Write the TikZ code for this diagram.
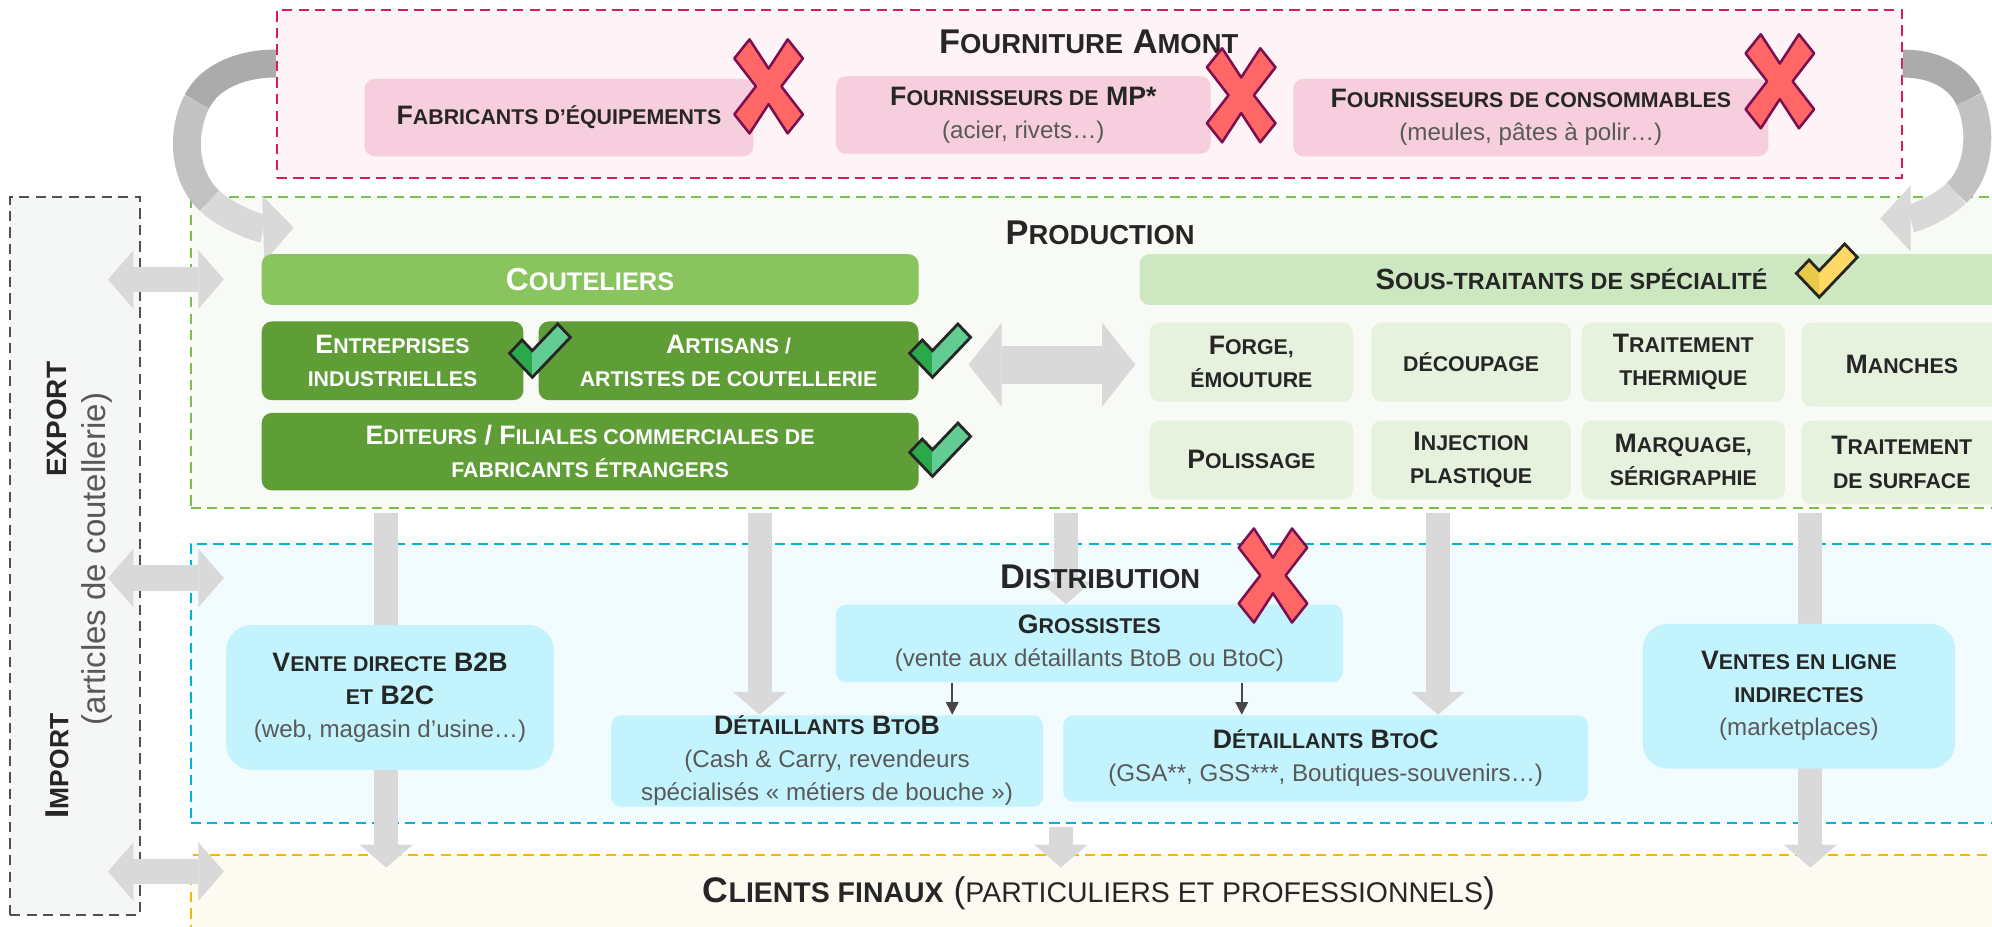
\documentclass[tikz,border=0pt]{standalone}
\usepackage{fontspec}
\setmainfont{Liberation Sans}
\usetikzlibrary{shapes,arrows.meta,calc}

\definecolor{txt}{HTML}{262626}
\definecolor{subtxt}{HTML}{595959}
\definecolor{pinkline}{HTML}{D81B60}
\definecolor{pinkbg}{HTML}{FEF3F7}
\definecolor{pinkbx}{HTML}{F6CEDD}
\definecolor{greenline}{HTML}{7DBF4E}
\definecolor{greenbg}{HTML}{F8FAF5}
\definecolor{coutbar}{HTML}{8AC45E}
\definecolor{coutbx}{HTML}{5F9D37}
\definecolor{sstbar}{HTML}{CDE8C1}
\definecolor{sstbx}{HTML}{E6F2DD}
\definecolor{cyanline}{HTML}{00B4D8}
\definecolor{cyanbg}{HTML}{F2FBFE}
\definecolor{cyanbx}{HTML}{C3F4FE}
\definecolor{orline}{HTML}{F5B800}
\definecolor{orbg}{HTML}{FDFAF2}
\definecolor{greyline}{HTML}{505050}
\definecolor{greybg}{HTML}{F5F6F6}
\definecolor{arrgrey}{HTML}{D9D9D9}
\definecolor{arrmid}{HTML}{C2C2C2}
\definecolor{arrdark}{HTML}{ABABAB}
\definecolor{xfill}{HTML}{FF6666}
\definecolor{xedge}{HTML}{7A1050}
\definecolor{okdark}{HTML}{2AA84A}
\definecolor{oklight}{HTML}{62CC92}
\definecolor{ydark}{HTML}{E8C94A}
\definecolor{ylight}{HTML}{FFD966}

% small caps made by hand
\makeatletter
\newcommand\sm[1]{{\fontsize{\fpeval{0.8*\f@size}}{\f@baselineskip}\selectfont\MakeUppercase{#1}}}
\makeatother
\newcommand\subt[1]{{\mdseries\color{subtxt}\fontsize{9.5}{12}\selectfont #1}}
\newcommand\px{0.5pt}

\tikzset{
  sect/.style = {rectangle, line width=0.8pt, dash pattern=on 4pt off 2.5pt},
  ttl/.style = {font=\fontsize{13.5}{16}\selectfont\bfseries, text=txt},
  bx/.style = {rectangle, rounded corners=4pt, align=center, inner sep=0pt,
               font=\fontsize{10.5}{13}\selectfont\bfseries, text=txt},
  pinkb/.style = {bx, fill=pinkbx},
  coutb/.style = {bx, fill=coutbx, text=white},
  sstb/.style = {bx, fill=sstbx},
  cyanb/.style = {bx, fill=cyanbx},
  bigarr/.style = {draw=arrgrey, line width=9.5pt,
                   -{Triangle[width=21pt,length=9pt,line width=0pt]}},
  dblarr/.style = {draw=arrgrey, line width=10pt,
                   {Triangle[width=23pt,length=10pt,line width=0pt]}-{Triangle[width=23pt,length=10pt,line width=0pt]}},
  midarr/.style = {draw=arrgrey, line width=15pt,
                   {Triangle[width=33pt,length=13pt,line width=0pt]}-{Triangle[width=33pt,length=13pt,line width=0pt]}},
  smallarr/.style = {draw=txt!85, line width=0.6pt, -{Triangle[width=5pt,length=5pt]}},
  curv/.style = {line width=11pt},
  curvtip/.style = {curv, draw=arrgrey, -{Triangle[width=26pt,length=12pt,line width=0pt]}},
  pics/okmark/.style 2 args = {code={
    \begin{scope}
      \clip (0,0) -- (-18,-18) -- (-8,-28) -- (0,-20) -- (20,-40) -- (30,-30) -- cycle;
      \fill[#1] (-20,-45) rectangle (0,2);
      \fill[#2] (0,-45) rectangle (32,2);
    \end{scope}
    \draw[line width=1.1pt, draw=black!85]
      (0,0) -- (-18,-18) -- (-8,-28) -- (0,-20) -- (20,-40) -- (30,-30) -- cycle;
  }},
  pics/nomark/.style = {code={
    \filldraw[fill=xfill, draw=xedge, line width=1pt, line join=round]
      (-27,-22) -- (-15,-37) -- (0,-14) -- (15,-37) -- (27,-22) -- (10,0) --
      (27,22) -- (15,37) -- (0,14) -- (-15,37) -- (-27,22) -- (-10,0) -- cycle;
  }}
}

\begin{document}
\begin{tikzpicture}[x=0.5pt, y=-0.5pt]
  \useasboundingbox (0,0) rectangle (1568,729);

  % sections
  \node[sect,
        draw = pinkline,
        fill = pinkbg,
        minimum width = 1279*\px,
        minimum height = 132*\px] (fourn) at (857.5,74) {};
  \node[sect,
        draw = greyline,
        fill = greybg,
        minimum width = 102*\px,
        minimum height = 565*\px] (expo) at (59,437.5) {};
  \node[sect,
        draw = greenline,
        fill = greenbg,
        minimum width = 1450*\px,
        minimum height = 245*\px] (prod) at (875,277.5) {};
  \node[sect,
        draw = cyanline,
        fill = cyanbg,
        minimum width = 1450*\px,
        minimum height = 220*\px] (dist) at (875,538) {};
  \node[sect,
        draw = orline,
        fill = orbg,
        minimum width = 1450*\px,
        minimum height = 87*\px] (cli) at (875,716.5) {};

  \node[ttl] (fourntxt) at (857,33) {F\sm{ourniture} A\sm{mont}};
  \node[ttl] (prodtxt) at (866,183) {P\sm{roduction}};
  \node[ttl, font=\fontsize{14}{16}\selectfont\bfseries] (clitxt) at (865,703)
       {C\sm{lients finaux} {\mdseries(\sm{particuliers et professionnels})}};

  \node[rotate=90, font=\fontsize{11}{13}\selectfont\bfseries, text=txt] at (45,330) {EXPORT};
  \node[rotate=90, font=\fontsize{13}{15}\selectfont\bfseries, text=txt] at (45,603) {I\sm{mport}};
  \node[rotate=90, font=\fontsize{13}{15}\selectfont, text=subtxt] at (76,440) {(articles de coutellerie)};

  % curved arrows
  \coordinate (lb1) at (155,80);
  \coordinate (lb2) at (165,158);
  \coordinate (rb1) at (1550,78);
  \coordinate (rb2) at (1540,152);
  \coordinate (rtip) at (1480,172);
  \draw[curv, draw=arrdark] ($(fourn.west)+(0,-24)$) .. controls (190,50) and (165,60) .. (lb1);
  \draw[curv, draw=arrmid] (lb1) .. controls (142,105) and (145,140) .. (lb2);
  \draw[curvtip] (lb2) .. controls (180,172) and (205,180) .. ($(prod.north west)+(82,25)$);
  \draw[curv, draw=arrdark] ($(fourn.east)+(0,-24)$) .. controls (1522,50) and (1542,60) .. (rb1);
  \draw[curv, draw=arrmid] (rb1) .. controls (1561,102) and (1558,135) .. (rb2);
  \draw[curvtip] (rb2) .. controls (1525,166) and (1505,172) .. (rtip);

  % flows behind the boxes
  \coordinate (a1) at (304,404);
  \coordinate (a5) at (1425,404);
  \coordinate (a6) at (835,651);
  \draw[bigarr] (a1) -- (a1 |- clitxt.north);
  \draw[bigarr] (a5) -- (a5 |- clitxt.north);
  \draw[bigarr] (a6) -- (a6 |- clitxt.north);

  \coordinate (ex1) at (85,220);
  \coordinate (ex2) at (85,455);
  \coordinate (ex3) at (85,686);
  \foreach \e in {ex1,ex2,ex3}
    \draw[dblarr] (\e) -- ($(\e -| prod.west)+(27,0)$);

  % fourniture amont
  \node[pinkb,
        minimum width = 306*\px,
        minimum height = 61*\px] (fab) at (440,92.5) {F\sm{abricants d’équipements}};
  \node[pinkb,
        minimum width = 295*\px,
        minimum height = 61*\px] (mp) at (805.5,90.5) {F\sm{ournisseurs de} MP*\\\subt{(acier, rivets…)}};
  \node[pinkb,
        minimum width = 374*\px,
        minimum height = 61*\px] (conso) at (1205,92.5) {F\sm{ournisseurs de consommables}\\\subt{(meules, pâtes à polir…)}};

  % production
  \node[bx,
        fill = coutbar,
        text = white,
        font = \fontsize{12.5}{15}\selectfont\bfseries,
        minimum width = 517*\px,
        minimum height = 40*\px] (coutel) at (464.5,220) {C\sm{outeliers}};
  \node[coutb,
        minimum width = 206*\px,
        minimum height = 62*\px] (entr) at (309,284) {E\sm{ntreprises}\\\sm{industrielles}};
  \node[coutb,
        minimum width = 299*\px,
        minimum height = 62*\px] (arti) at (573.5,284) {A\sm{rtisans /}\\\sm{artistes de coutellerie}};
  \node[coutb,
        minimum width = 517*\px,
        minimum height = 61*\px] (edit) at (464.5,355.5) {E\sm{diteurs} / F\sm{iliales commerciales de}\\\sm{fabricants étrangers}};

  \node[bx,
        fill = sstbar,
        font = \fontsize{11.5}{14}\selectfont\bfseries,
        minimum width = 680*\px,
        minimum height = 40*\px] (sst) at (1237,220) {S\sm{ous-traitants de spécialité}};

  \node[sstb, minimum width=160*\px, minimum height=62*\px] (forge) at (985,285) {F\sm{orge,}\\\sm{émouture}};
  \node[sstb, minimum width=157*\px, minimum height=62*\px] (decoup) at (1158,285) {\sm{découpage}};
  \node[sstb, minimum width=160*\px, minimum height=62*\px] (thermo) at (1325,285) {T\sm{raitement}\\\sm{thermique}};
  \node[sstb, minimum width=158*\px, minimum height=66*\px] (manch) at (1497,287) {M\sm{anches}};
  \node[sstb, minimum width=160*\px, minimum height=62*\px] (poli) at (985,362) {P\sm{olissage}};
  \node[sstb, minimum width=157*\px, minimum height=62*\px] (inject) at (1158,362) {I\sm{njection}\\\sm{plastique}};
  \node[sstb, minimum width=160*\px, minimum height=62*\px] (marq) at (1325,362) {M\sm{arquage,}\\\sm{sérigraphie}};
  \node[sstb, minimum width=158*\px, minimum height=66*\px] (surf) at (1497,364) {T\sm{raitement}\\\sm{de surface}};

  \draw[midarr] ($(arti.east)+(39,3)$) -- ($(forge.west)+(-11,2)$);

  % distribution
  \node[cyanb,
        rounded corners = 10pt,
        minimum width = 258*\px,
        minimum height = 114*\px] (vd) at (307,549) {V\sm{ente directe} B2B\\\sm{et} B2C\\\subt{(web, magasin d’usine…)}};
  \node[cyanb,
        minimum width = 399*\px,
        minimum height = 61*\px] (gros) at (857.5,506.5) {G\sm{rossistes}\\\subt{(vente aux détaillants BtoB ou BtoC)}};
  \node[cyanb,
        minimum width = 340*\px,
        minimum height = 72*\px] (btob) at (651,599) {D\sm{étaillants} B\sm{to}B\\\subt{(Cash \& Carry, revendeurs}\\\subt{spécialisés « métiers de bouche »)}};
  \node[cyanb,
        minimum width = 413*\px,
        minimum height = 68*\px] (btoc) at (1043.5,597) {D\sm{étaillants} B\sm{to}C\\\subt{(GSA**, GSS***, Boutiques-souvenirs…)}};
  \node[cyanb,
        rounded corners = 10pt,
        minimum width = 246*\px,
        minimum height = 114*\px] (vel) at (1416,548) {V\sm{entes en ligne}\\\sm{indirectes}\\\subt{(marketplaces)}};

  % flows ending on boxes
  \coordinate (a2) at (598,404);
  \coordinate (a3) at (839,404);
  \coordinate (a4) at (1132,404);
  \draw[bigarr] (a2) -- (a2 |- btob.north);
  \draw[bigarr] (a3) -- (a3 |- gros.north);
  \draw[bigarr] (a4) -- (a4 |- btoc.north);

  \draw[smallarr] ($(gros.south west)!0.23!(gros.south east)$) coordinate (g1) -- (g1 |- btob.north);
  \draw[smallarr] ($(gros.south west)!0.8!(gros.south east)$) coordinate (g2) -- (g2 |- btoc.north);

  \node[ttl] (disttxt) at (866,454) {D\sm{istribution}};

  % marks
  \pic at (605,68) {nomark};
  \pic at (977,75) {nomark};
  \pic at (1401,64) {nomark};
  \pic at (1002,453) {nomark};
  \pic[yscale=1.05] at (419,297) {okmark={okdark}{oklight}};
  \pic[yscale=1.05] at (734,297) {okmark={okdark}{oklight}};
  \pic[yscale=1.05] at (734,375) {okmark={okdark}{oklight}};
  \pic[yscale=1.05] at (1432,234) {okmark={ydark}{ylight}};

\end{tikzpicture}
\end{document}
